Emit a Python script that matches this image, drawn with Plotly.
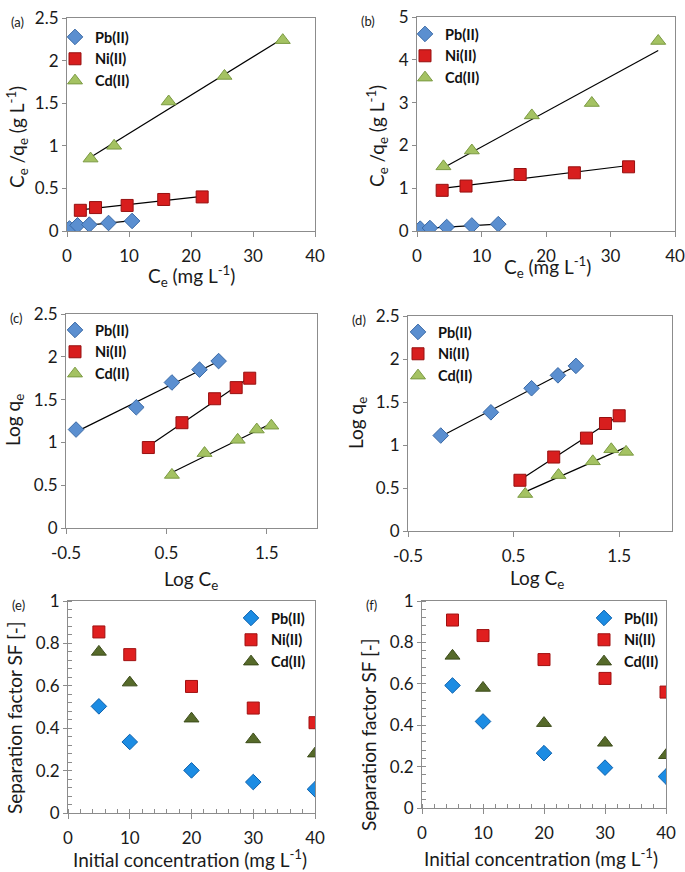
"""Six-panel isotherm / separation-factor figure rebuilt with plotly."""
import numpy as np
import plotly.graph_objects as go

W, H = 685, 872
FONT = "Lato"

# (a) Langmuir plot, adsorbent 1 : Ce (mg/L) vs Ce/qe (g/L)
a_pb_x = [0.4, 1.7, 3.6, 6.7, 10.5]
a_pb_y = [0.03, 0.067, 0.075, 0.094, 0.118]
a_ni_x = [2.15, 4.6, 9.7, 15.6, 21.8]
a_ni_y = [0.243, 0.275, 0.30, 0.37, 0.40]
a_cd_x = [3.8, 7.6, 16.4, 25.4, 34.8]
a_cd_y = [0.85, 1.0, 1.52, 1.82, 2.24]

# (b) Langmuir plot, adsorbent 2
b_pb_x = [0.5, 2.0, 4.6, 8.5, 12.6]
b_pb_y = [0.055, 0.07, 0.093, 0.13, 0.16]
b_ni_x = [3.9, 7.6, 16.0, 24.4, 32.8]
b_ni_y = [0.95, 1.05, 1.32, 1.36, 1.50]
b_cd_x = [4.1, 8.5, 17.8, 27.1, 37.4]
b_cd_y = [1.51, 1.88, 2.70, 2.99, 4.44]

# (c) Freundlich plot, adsorbent 1 : log Ce vs log qe
c_pb_x = [-0.40, 0.20, 0.555, 0.83, 1.02]
c_pb_y = [1.15, 1.41, 1.70, 1.85, 1.95]
c_ni_x = [0.32, 0.655, 0.98, 1.195, 1.33]
c_ni_y = [0.94, 1.23, 1.51, 1.64, 1.75]
c_cd_x = [0.555, 0.88, 1.21, 1.40, 1.545]
c_cd_y = [0.62, 0.875, 1.03, 1.15, 1.195]

# (d) Freundlich plot, adsorbent 2
d_pb_x = [-0.19, 0.285, 0.67, 0.92, 1.09]
d_pb_y = [1.11, 1.38, 1.66, 1.81, 1.92]
d_ni_x = [0.56, 0.88, 1.19, 1.37, 1.50]
d_ni_y = [0.59, 0.86, 1.08, 1.25, 1.34]
d_cd_x = [0.61, 0.925, 1.25, 1.425, 1.565]
d_cd_y = [0.43, 0.65, 0.81, 0.95, 0.92]

# (e), (f) separation factor vs initial concentration (mg/L)
c0 = [5, 10, 20, 30, 40]
e_pb = [0.503, 0.335, 0.201, 0.146, 0.112]
e_ni = [0.854, 0.747, 0.597, 0.495, 0.426]
e_cd = [0.76, 0.615, 0.445, 0.347, 0.28]
f_pb = [0.592, 0.418, 0.265, 0.195, 0.152]
f_ni = [0.908, 0.833, 0.717, 0.626, 0.56]
f_cd = [0.735, 0.58, 0.41, 0.315, 0.255]

names = ["Pb(II)", "Ni(II)", "Cd(II)"]
symbols = ["diamond", "square", "triangle-up"]
sizes = [12, 12, 13]
fill_top = ["#5b8fd0", "#d81e1e", "#a4c262"]
edge_top = ["#3b6aa6", "#971010", "#7b9a42"]
fill_bot = ["#1c8ce3", "#e01f1f", "#566a2a"]
edge_bot = ["#0f62ad", "#a01010", "#3c4c1a"]


def px_x(p):
    return p / W


def px_y(p):
    return 1 - p / H


# panel boxes in pixels: left, right, top, bottom
panels = [
    dict(tag="(a)", box=(67, 315, 18, 231), xr=[0, 40], yr=[0, 2.5], dy=0.5,
         series=[(a_pb_x, a_pb_y), (a_ni_x, a_ni_y), (a_cd_x, a_cd_y)], fit=True),
    dict(tag="(b)", box=(417, 675, 17, 231), xr=[0, 40], yr=[0, 5], dy=1,
         series=[(b_pb_x, b_pb_y), (b_ni_x, b_ni_y), (b_cd_x, b_cd_y)], fit=True),
    dict(tag="(c)", box=(66, 317, 314, 528), xr=[-0.5, 2], yr=[0, 2.5], dy=0.5,
         series=[(c_pb_x, c_pb_y), (c_ni_x, c_ni_y), (c_cd_x, c_cd_y)], fit=True),
    dict(tag="(d)", box=(408, 672, 316, 531), xr=[-0.5, 2], yr=[0, 2.5], dy=0.5,
         series=[(d_pb_x, d_pb_y), (d_ni_x, d_ni_y), (d_cd_x, d_cd_y)], fit=True),
    dict(tag="(e)", box=(68, 315, 601, 813), xr=[0, 40], yr=[0, 1], dy=0.2,
         series=[(c0, e_pb), (c0, e_ni), (c0, e_cd)], fit=False),
    dict(tag="(f)", box=(422, 666, 601, 808), xr=[0, 40], yr=[0, 1], dy=0.2,
         series=[(c0, f_pb), (c0, f_ni), (c0, f_cd)], fit=False),
]

ce_title = "C<sub>e</sub> (mg L<sup>-1</sup>)"
ratio_title = "C<sub>e</sub> /q<sub>e</sub> (g L<sup>-1</sup>)"
log_x = "Log C<sub>e</sub>"
log_y = "Log q<sub>e</sub>"
sf_x = "Initial concentration (mg L<sup>-1</sup>)"
sf_y = "Separation factor SF [-]"
titles = [(ce_title, ratio_title), (ce_title, ratio_title), (log_x, log_y),
          (log_x, log_y), (sf_x, sf_y), (sf_x, sf_y)]
# centres (px) of the x title and the y title of each panel
xtitle_at = [(191, 276), (547, 267), (191, 580), (537, 579), (190, 858), (541, 857)]
ytitle_at = [(17, 137), (377, 136), (14, 420), (357, 423), (14, 718), (368, 735)]

# legend anchor (left/right edge px, top px, xanchor)
legend_pos = [(55, 21, "left"), (405, 18, "left"), (55, 314, "left"),
              (398, 316, "left"), (311, 602, "right"), (664, 602, "right")]

fig = go.Figure()
axis_font = dict(family=FONT, size=17, color="#1a1a1a")
title_font = dict(family=FONT, size=19, color="#1a1a1a")

for i, p in enumerate(panels):
    n = "" if i == 0 else str(i + 1)
    xa, ya = "x" + n, "y" + n
    leg = "legend" + n
    bottom = i >= 4
    fills = fill_bot if bottom else fill_top
    edges = edge_bot if bottom else edge_top
    for k, (xs, ys) in enumerate(p["series"]):
        if p["fit"]:
            # least-squares trend line, as in the original spreadsheet chart
            slope, icpt = np.polyfit(xs, ys, 1)
            xl = np.array([min(xs), max(xs)])
            fig.add_trace(go.Scatter(
                x=xl, y=slope * xl + icpt, mode="lines", xaxis=xa, yaxis=ya,
                line=dict(color="black", width=1.2), showlegend=False,
                hoverinfo="skip"))
        fig.add_trace(go.Scatter(
            x=xs, y=ys, mode="markers", name=names[k], xaxis=xa, yaxis=ya,
            legend=leg,
            marker=dict(symbol=symbols[k], size=sizes[k], color=fills[k],
                        line=dict(color=edges[k], width=1))))

    l, r, t, b = p["box"]
    xaxis = dict(domain=[px_x(l), px_x(r)], range=p["xr"], anchor=ya,
                 automargin=False, ticklabelstandoff=5,
                 showgrid=False, zeroline=False, showline=True, mirror=True,
                 linecolor="#8c8c8c", linewidth=1, ticks="outside",
                 ticklen=5, tickcolor="#8c8c8c", tickfont=axis_font)
    yaxis = dict(domain=[px_y(b), px_y(t)], range=p["yr"], anchor=xa,
                 automargin=False,
                 dtick=p["dy"], showgrid=False, zeroline=False, showline=True,
                 mirror=True, linecolor="#8c8c8c", linewidth=1,
                 ticks="outside", ticklen=4, tickcolor="#8c8c8c",
                 tickfont=axis_font)
    if p["xr"][0] < 0:
        xaxis.update(tickvals=[-0.5, 0.5, 1.5], ticktext=["-0.5", "0.5", "1.5"])
    else:
        xaxis.update(dtick=10)
    if bottom:
        xaxis.update(minor=dict(dtick=2, ticks="inside", ticklen=4,
                                tickcolor="#8c8c8c"))
        yaxis.update(minor=dict(dtick=0.04, ticks="inside", ticklen=4,
                                tickcolor="#8c8c8c"))
    fig.layout["xaxis" + n] = xaxis
    fig.layout["yaxis" + n] = yaxis

    lx, ly, anc = legend_pos[i]
    fig.layout[leg] = dict(
        x=px_x(lx), y=px_y(ly), xanchor=anc, yanchor="top",
        bgcolor="rgba(0,0,0,0)", itemwidth=30, tracegroupgap=0,
        font=dict(family=FONT, size=14.5, color="#111111", weight="bold"))

    # axis titles and panel tag
    xt, yt = titles[i]
    fig.add_annotation(x=px_x(xtitle_at[i][0]), y=px_y(xtitle_at[i][1]),
                       xref="paper", yref="paper", text=xt, showarrow=False,
                       xanchor="center", yanchor="middle", font=title_font)
    fig.add_annotation(x=px_x(ytitle_at[i][0]), y=px_y(ytitle_at[i][1]),
                       xref="paper", yref="paper", text=yt, textangle=-90,
                       showarrow=False, xanchor="center", yanchor="middle",
                       font=title_font)
    fig.add_annotation(x=px_x(l - 58), y=px_y(t - 6), xref="paper",
                       yref="paper", text=p["tag"], showarrow=False,
                       xanchor="left", yanchor="top",
                       font=dict(family=FONT, size=13, color="#1a1a1a"))

fig.update_layout(width=W, height=H, margin=dict(l=0, r=0, t=0, b=0),
                  plot_bgcolor="white", paper_bgcolor="white",
                  font=dict(family=FONT))

# the page keeps the browser's default body margin otherwise
fig.write_html("out.html", config={"displayModeBar": False},
               post_script="document.body.style.margin = '0';")
